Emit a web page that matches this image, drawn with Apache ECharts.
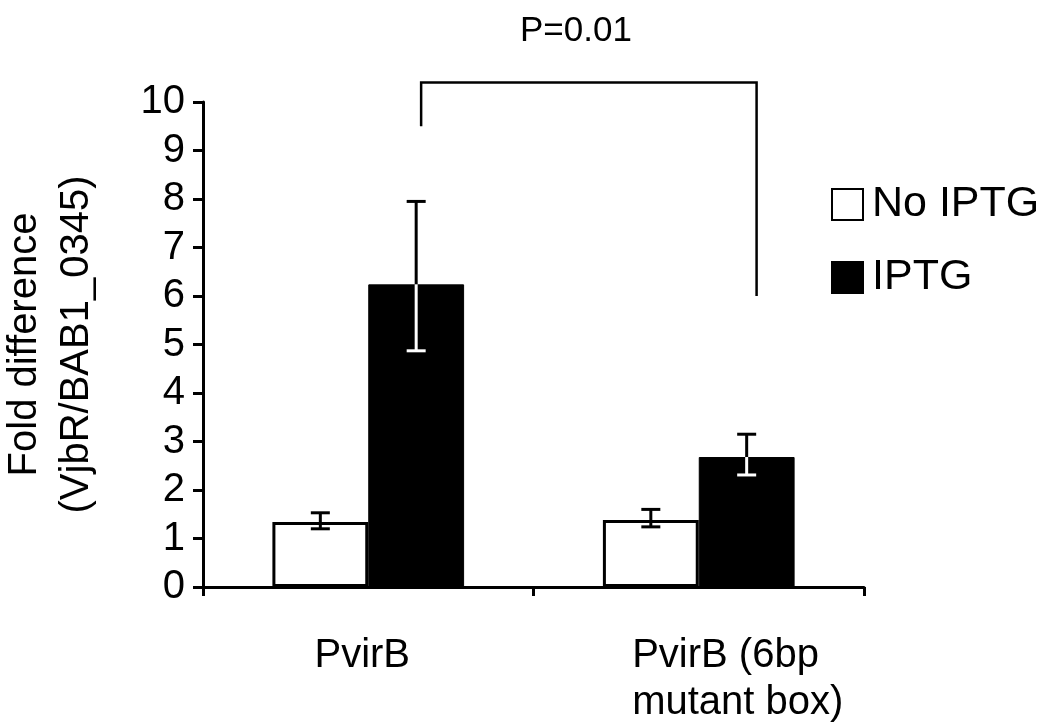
<!DOCTYPE html>
<html>
<head>
<meta charset="utf-8">
<script src="https://cdn.jsdelivr.net/npm/echarts@6/dist/echarts.min.js"></script>
<style>html,body{margin:0;padding:0;background:#fff}#c{width:1050px;height:726px}</style>
</head>
<body>
<div id="c"></div>
<script>
const categories = ['PvirB', 'PvirB (6bp\nmutant box)'];
const yTicks = [0, 1, 2, 3, 4, 5, 6, 7, 8, 9, 10];
const noIptg = [1.34, 1.38];
const noIptgLow = [1.20, 1.24];
const noIptgHigh = [1.53, 1.60];
const iptg = [6.24, 2.68];
const iptgLow = [4.87, 2.31];
const iptgHigh = [7.95, 3.15];
const pLabel = 'P=0.01';
const bracket = { top: 10.4, leftEnd: 9.5, rightEnd: 6.0 };

const FONT = 'Liberation Sans, Arial, sans-serif';
const GAP = 0.42;

const chart = echarts.init(document.getElementById('c'));

function errRender(seriesIdx, vals, lows, highs) {
  return function (params, api) {
    const i = api.value(0);
    const catW = api.size([1, 0])[0];
    const bw = catW * (1 - GAP) / 2;
    const off = seriesIdx === 0 ? -bw / 2 : bw / 2;
    const pv = api.coord([i, vals[i]]);
    const pl = api.coord([i, lows[i]]);
    const ph = api.coord([i, highs[i]]);
    const x = pv[0] + off;
    const cap = 9.5;
    const lowColor = seriesIdx === 0 ? '#000' : '#fff';
    const children = [
      { type: 'line', shape: { x1: x, y1: ph[1], x2: x, y2: pv[1] }, style: { stroke: '#000', lineWidth: 3 } },
      { type: 'line', shape: { x1: x - cap, y1: ph[1], x2: x + cap, y2: ph[1] }, style: { stroke: '#000', lineWidth: 3 } },
      { type: 'line', shape: { x1: x, y1: pv[1], x2: x, y2: pl[1] }, style: { stroke: lowColor, lineWidth: 3 } },
      { type: 'line', shape: { x1: x - cap, y1: pl[1], x2: x + cap, y2: pl[1] }, style: { stroke: lowColor, lineWidth: 3 } }
    ];
    return { type: 'group', children };
  };
}

const option = {
  animation: false,
  backgroundColor: '#fff',
  textStyle: { fontFamily: FONT },
  title: {
    text: pLabel, left: 515, top: 9,
    textStyle: { fontFamily: FONT, fontSize: 35, fontWeight: 'normal', color: '#000' }
  },
  legend: {
    orient: 'vertical', left: 831, top: 183, itemWidth: 31, itemHeight: 31, itemGap: 30,
    icon: 'rect', padding: 0,
    textStyle: { fontFamily: FONT, fontSize: 43, lineHeight: 31, color: '#000', padding: [4, 0, 0, 4] },
    data: [
      { name: 'No IPTG', itemStyle: { color: '#fff', borderColor: '#000', borderWidth: 2 } },
      { name: 'IPTG', itemStyle: { color: '#000' } }
    ]
  },
  grid: { left: 203, right: 186, top: 102, bottom: 139, containLabel: false, outerBoundsMode: 'none' },
  xAxis: {
    type: 'category', data: categories,
    axisLine: { lineStyle: { color: '#000', width: 3 } },
    axisTick: { show: true, length: 9, lineStyle: { color: '#000', width: 3 } },
    axisLabel: {
      interval: 0, hideOverlap: false,
      color: '#000', fontFamily: FONT, fontSize: 40, margin: 45, lineHeight: 47,
      formatter: function (v, i) {
        const lines = v.split('\n');
        if (i === 1) return lines.map(s => '{l2|' + s + '}').join('\n');
        return '{l1|' + v + '}';
      },
      rich: {
        l1: { fontFamily: FONT, fontSize: 40, lineHeight: 47, color: '#000', padding: [0, 12, 0, 0] },
        l2: { fontFamily: FONT, fontSize: 40, lineHeight: 47, color: '#000', align: 'left', padding: [0, 0, 0, 78] }
      }
    }
  },
  yAxis: {
    type: 'value', min: yTicks[0], max: yTicks[yTicks.length - 1], interval: 1,
    name: 'Fold difference\n(VjbR/BAB1_0345)', nameLocation: 'middle', nameGap: 100,
    nameTextStyle: { color: '#000', fontFamily: FONT, fontSize: 40, lineHeight: 52 },
    splitLine: { show: false },
    axisLine: { show: true, lineStyle: { color: '#000', width: 3 } },
    axisTick: { show: true, length: 10, lineStyle: { color: '#000', width: 3 } },
    axisLabel: { color: '#000', fontFamily: FONT, fontSize: 40, margin: 18 }
  },
  series: [
    {
      name: 'No IPTG', type: 'bar', data: noIptg, barGap: '0%', barCategoryGap: (GAP * 100) + '%',
      itemStyle: { color: '#fff', borderColor: '#000', borderWidth: 3 }
    },
    {
      name: 'IPTG', type: 'bar', data: iptg,
      itemStyle: { color: '#000', borderColor: '#000', borderWidth: 1 }
    },
    {
      type: 'custom', data: categories.map((c, i) => [i]), z: 10, silent: true,
      renderItem: errRender(0, noIptg, noIptgLow, noIptgHigh)
    },
    {
      type: 'custom', data: categories.map((c, i) => [i]), z: 10, silent: true,
      renderItem: errRender(1, iptg, iptgLow, iptgHigh)
    },
    {
      type: 'custom', data: [[0]], z: 10, silent: true, clip: false,
      renderItem: function (params, api) {
        const catW = api.size([1, 0])[0];
        const a = api.coord([0, bracket.top]);
        const b = api.coord([1, bracket.top]);
        const xl = a[0] + catW * 0.16;
        const xr = b[0] + catW * 0.175;
        const yl = api.coord([0, bracket.leftEnd])[1];
        const yr = api.coord([1, bracket.rightEnd])[1];
        return {
          type: 'polyline',
          shape: { points: [[xl, yl], [xl, a[1]], [xr, a[1]], [xr, yr]] },
          style: { stroke: '#000', lineWidth: 2.5, fill: null }
        };
      }
    }
  ]
};
chart.setOption(option);
</script>
</body>
</html>
